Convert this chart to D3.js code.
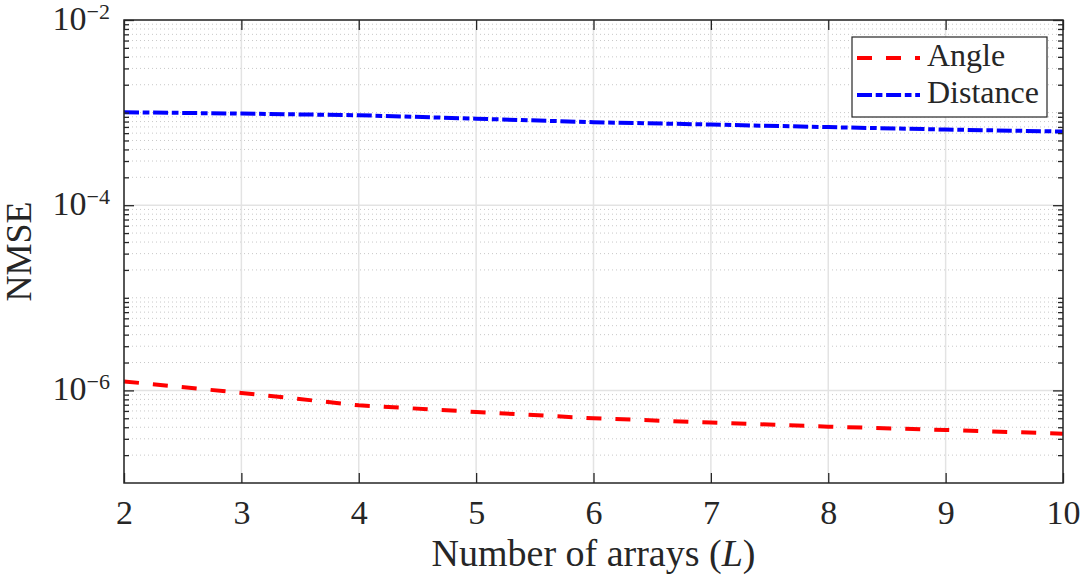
<!DOCTYPE html>
<html>
<head>
<meta charset="utf-8">
<script src="https://cdn.jsdelivr.net/npm/d3@7"></script>
<style>
  body { margin: 0; background: #fff; }
  text { font-family: "Liberation Serif", "Times New Roman", serif; fill: #262626; }
</style>
</head>
<body>
<div id="chart"></div>
<script>
// values
const arrays = [2, 3, 4, 5, 6, 7, 8, 9, 10]
const angleNmse = [1.25e-6, 9.4e-7, 6.9e-7, 5.85e-7, 5.0e-7, 4.5e-7, 4.06e-7, 3.74e-7, 3.41e-7]
const distanceNmse = [1.01e-3, 9.75e-4, 9.37e-4, 8.6e-4, 7.87e-4, 7.43e-4, 6.97e-4, 6.56e-4, 6.24e-4]
const xTicks = [2, 3, 4, 5, 6, 7, 8, 9, 10]
const yTicks = [1e-2, 1e-4, 1e-6]
const yTickExp = ["\u22122", "\u22124", "\u22126"]

const MARGIN = { LEFT: 124, RIGHT: 17, TOP: 20, BOTTOM: 94 }
const WIDTH = 1080 - MARGIN.LEFT - MARGIN.RIGHT
const HEIGHT = 577 - MARGIN.TOP - MARGIN.BOTTOM
const AXIS = "#262626"

const svg = d3.select("#chart").append("svg")
  .attr("width", 1080)
  .attr("height", 577)

const g = svg.append("g")
  .attr("transform", `translate(${MARGIN.LEFT}, ${MARGIN.TOP})`)

const x = d3.scaleLinear().domain([2, 10]).range([0, WIDTH])
const y = d3.scaleLog().domain([1e-7, 1e-2]).range([HEIGHT, 0])

// minor log positions: 2..9 in every decade, plus the unlabeled decades
const minorTicks = []
for (let e = -7; e < -2; e++) {
  for (let m = 1; m < 10; m++) {
    const v = m * Math.pow(10, e)
    if (m === 1 && (e === -7 || e % 2 === 0)) continue
    minorTicks.push(v)
  }
}

// grid
g.append("g")
  .selectAll("line")
  .data(minorTicks)
  .enter().append("line")
  .attr("x1", 0).attr("x2", WIDTH)
  .attr("y1", d => y(d)).attr("y2", d => y(d))
  .attr("stroke", "#c8c8c8")
  .attr("stroke-width", 1)
  .attr("stroke-dasharray", "1,3")

g.append("g")
  .selectAll("line")
  .data(yTicks)
  .enter().append("line")
  .attr("x1", 0).attr("x2", WIDTH)
  .attr("y1", d => y(d)).attr("y2", d => y(d))
  .attr("stroke", "#e3e3e3")
  .attr("stroke-width", 1.5)

g.append("g")
  .selectAll("line")
  .data(xTicks)
  .enter().append("line")
  .attr("x1", d => x(d)).attr("x2", d => x(d))
  .attr("y1", 0).attr("y2", HEIGHT)
  .attr("stroke", "#e3e3e3")
  .attr("stroke-width", 1.5)

// data lines
const line = d3.line()
  .x((d, i) => x(arrays[i]))
  .y(d => y(d))

g.append("path")
  .datum(distanceNmse)
  .attr("d", line)
  .attr("fill", "none")
  .attr("stroke", "#0000ff")
  .attr("stroke-width", 4)
  .attr("stroke-dasharray", "15,3.7,6.7,3.7")

g.append("path")
  .datum(angleNmse)
  .attr("d", line)
  .attr("fill", "none")
  .attr("stroke", "#ff0000")
  .attr("stroke-width", 4)
  .attr("stroke-dasharray", "15,14")

// axes with inward ticks on all four sides
function styleAxis(sel) {
  sel.select(".domain").remove()
  sel.selectAll("line").attr("stroke", AXIS).attr("stroke-width", 1.3)
}

const xAxis = g.append("g")
  .attr("transform", `translate(0, ${HEIGHT})`)
  .call(d3.axisBottom(x).tickValues(xTicks).tickSize(-10).tickFormat(d3.format("d")))
xAxis.call(styleAxis)
xAxis.selectAll("text")
  .attr("y", 41)
  .attr("dy", null)
  .style("font-size", "34px")
  .style("font-family", "Liberation Serif")
  .attr("fill", AXIS)

g.append("g")
  .call(d3.axisTop(x).tickValues(xTicks).tickSize(-10).tickFormat(""))
  .call(styleAxis)

const yAxis = g.append("g")
  .call(d3.axisLeft(y).tickValues(yTicks).tickSize(-10).tickFormat(""))
yAxis.call(styleAxis)

g.append("g")
  .call(d3.axisLeft(y).tickValues(minorTicks).tickSize(-5).tickFormat(""))
  .call(styleAxis)

g.append("g")
  .attr("transform", `translate(${WIDTH}, 0)`)
  .call(d3.axisRight(y).tickValues(yTicks).tickSize(-10).tickFormat(""))
  .call(styleAxis)

g.append("g")
  .attr("transform", `translate(${WIDTH}, 0)`)
  .call(d3.axisRight(y).tickValues(minorTicks).tickSize(-5).tickFormat(""))
  .call(styleAxis)

// y tick labels 10^e
const yLab = g.append("g")
  .selectAll("text")
  .data(yTicks)
  .enter().append("text")
  .attr("x", -14)
  .attr("y", d => y(d) + 10)
  .attr("text-anchor", "end")
yLab.append("tspan")
  .style("font-size", "34px")
  .text("10")
yLab.append("tspan")
  .attr("dy", -11.5)
  .style("font-size", "22px")
  .text((d, i) => yTickExp[i])

// frame
g.append("rect")
  .attr("width", WIDTH)
  .attr("height", HEIGHT)
  .attr("fill", "none")
  .attr("stroke", AXIS)
  .attr("stroke-width", 1.5)

// axis titles
const xTitle = svg.append("text")
  .attr("x", MARGIN.LEFT + WIDTH / 2)
  .attr("y", 566)
  .attr("text-anchor", "middle")
  .style("font-size", "38px")
xTitle.append("tspan").text("Number of arrays (")
xTitle.append("tspan").style("font-style", "italic").text("L")
xTitle.append("tspan").text(")")

svg.append("text")
  .attr("transform", `translate(31, ${MARGIN.TOP + HEIGHT / 2}) rotate(-90)`)
  .attr("text-anchor", "middle")
  .style("font-size", "36px")
  .text("NMSE")

// legend
const legend = svg.append("g")
  .attr("transform", "translate(852, 37)")

legend.append("rect")
  .attr("width", 195)
  .attr("height", 80)
  .attr("fill", "#fff")
  .attr("stroke", AXIS)
  .attr("stroke-width", 1.2)

const legendItems = [
  { name: "Angle", color: "#ff0000", dash: "15,14", y: 21 },
  { name: "Distance", color: "#0000ff", dash: "15,3.7,6.7,3.7", y: 58 }
]

legendItems.forEach(function(item) {
  legend.append("line")
    .attr("x1", 5).attr("x2", 68)
    .attr("y1", item.y).attr("y2", item.y)
    .attr("stroke", item.color)
    .attr("stroke-width", 4)
    .attr("stroke-dasharray", item.dash)
  legend.append("text")
    .attr("x", 75)
    .attr("y", item.y + 8)
    .style("font-size", "32px")
    .text(item.name)
})
</script>
</body>
</html>
